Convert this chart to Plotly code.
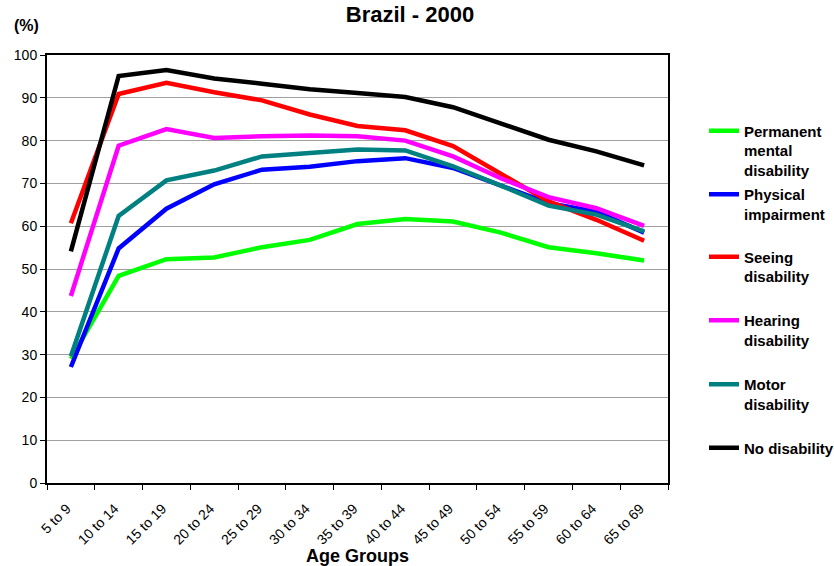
import plotly.graph_objects as go

age_groups = ["5 to 9", "10 to 14", "15 to 19", "20 to 24", "25 to 29", "30 to 34",
              "35 to 39", "40 to 44", "45 to 49", "50 to 54", "55 to 59", "60 to 64", "65 to 69"]

permanent_mental = [29.0, 48.4, 52.3, 52.7, 55.1, 56.8, 60.5, 61.7, 61.1, 58.5, 55.1, 53.7, 52.0]
physical_impairment = [27.1, 54.8, 64.1, 69.8, 73.2, 73.9, 75.2, 75.9, 73.6, 69.5, 65.4, 63.4, 58.5]
seeing = [60.7, 90.9, 93.5, 91.3, 89.4, 86.1, 83.4, 82.4, 78.7, 72.4, 65.8, 61.5, 56.6]
hearing = [43.7, 78.8, 82.7, 80.6, 81.0, 81.2, 81.0, 80.0, 76.3, 71.2, 66.8, 64.2, 60.1]
motor = [29.6, 62.4, 70.7, 73.0, 76.3, 77.1, 77.9, 77.7, 74.0, 69.5, 64.8, 62.7, 58.8]
no_disability = [54.1, 95.1, 96.5, 94.5, 93.3, 92.0, 91.1, 90.2, 87.8, 84.1, 80.2, 77.5, 74.2]

series = [
    ("Permanent<br>mental<br>disability", permanent_mental, "#00FF00"),
    ("Physical<br>impairment", physical_impairment, "#0000FF"),
    ("Seeing<br>disability", seeing, "#FF0000"),
    ("Hearing<br>disability", hearing, "#FF00FF"),
    ("Motor<br>disability", motor, "#008080"),
    ("No disability", no_disability, "#000000"),
]

W, H = 834, 566
L, R, T, B = 47, 166, 55, 83
plot_h = H - T - B
legend_tops = [114.5, 178, 240.5, 304, 368, 431.5]

FONT = "Liberation Sans, Arial, sans-serif"
fig = go.Figure()
layout_legends = {}
for i, (name, vals, color) in enumerate(series):
    key = "legend" if i == 0 else f"legend{i+1}"
    fig.add_trace(go.Scatter(x=age_groups, y=vals, mode="lines", name=name,
                             line=dict(color=color, width=4.5), legend=key))
    layout_legends[key] = dict(
        xref="container", yref="container",
        x=704 / W, xanchor="left",
        y=1 - legend_tops[i] / H, yanchor="top",
        valign="top", bgcolor="rgba(0,0,0,0)",
        font=dict(family=FONT, size=15, color="black", weight="bold"),
        tracegroupgap=0,
    )

fig.update_layout(
    width=W, height=H,
    margin=dict(l=L, r=R, t=T, b=B, autoexpand=False),
    paper_bgcolor="white", plot_bgcolor="white",
    font=dict(family=FONT, color="black"),
    title=dict(text="Brazil - 2000", x=410 / W, xref="container", xanchor="center",
               y=1 - 14 / H, yref="container", yanchor="middle",
               font=dict(family=FONT, size=22, weight="bold", color="black")),
    showlegend=True,
    **layout_legends,
)

fig.update_xaxes(
    type="category", range=[-0.5, 12.5], tickson="boundaries",
    ticks="outside", ticklen=5, tickcolor="black", tickwidth=1,
    tickangle=-45, tickfont=dict(family=FONT, size=14, color="black"),
    ticklabelstandoff=10, ticklabelshift=-4,
    showline=True, linecolor="black", linewidth=2, mirror=True,
    showgrid=False, automargin=False,
    title=dict(text="Age Groups", font=dict(family=FONT, size=18, weight="bold", color="black"),
               standoff=0),
)
fig.update_yaxes(
    range=[0, 100], dtick=10, ticks="outside", ticklen=5, tickcolor="black",
    tickfont=dict(family=FONT, size=14, color="black"),
    showline=True, linecolor="black", linewidth=2, mirror=True,
    showgrid=True, gridcolor="#A0A0A0", gridwidth=1, zeroline=False,
    automargin=False,
)

fig.add_annotation(text="(%)", xref="paper", yref="paper",
                   x=-21 / (W - L - R), y=(H - B - 25) / plot_h,
                   xanchor="center", yanchor="middle", showarrow=False,
                   font=dict(family=FONT, size=16, weight="bold", color="black"))

fig.write_html("out.html", config={"displayModeBar": False},
               post_script="document.body.style.margin='0';")
